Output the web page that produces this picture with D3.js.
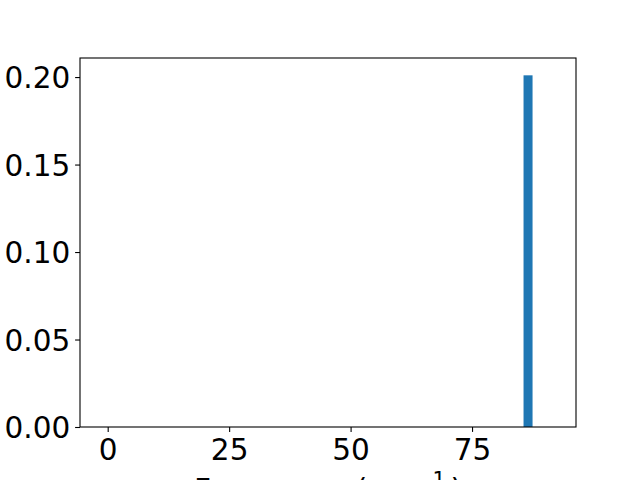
<!DOCTYPE html>
<html>
<head>
<meta charset="utf-8">
<script src="https://cdn.jsdelivr.net/npm/d3@7"></script>
<style>
  body { margin: 0; background: #fff; }
  text { font-family: "DejaVu Sans", sans-serif; fill: #000; }
</style>
</head>
<body>
<svg id="chart" width="640" height="480"></svg>
<script>
// histogram: bin edges and heights (only one non-empty bin)
var binStarts = [85.6];
var binWidths = [1.856];
var binHeights = [0.201];
var xTicks = [0, 25, 50, 75];
var yTicks = [0, 0.05, 0.10, 0.15, 0.20];
var xLabel = "Frequency (cm";

var svg = d3.select("#chart");
var plotLeft = 80, plotRight = 576, plotTop = 58, plotBottom = 427;
var fontSize = 29.5;

var x = d3.scaleLinear().domain([-5.7, 96.4]).range([plotLeft, plotRight]);
var y = d3.scaleLinear().domain([0, 0.2109]).range([plotBottom, plotTop]);

// bars
svg.append("g").selectAll("rect")
  .data(binHeights)
  .enter()
  .append("rect")
  .attr("x", (d, i) => x(binStarts[i]))
  .attr("width", (d, i) => x(binStarts[i] + binWidths[i]) - x(binStarts[i]))
  .attr("y", d => y(d))
  .attr("height", d => plotBottom - y(d))
  .attr("fill", "#1f77b4");

// axes
var xAxis = d3.axisBottom(x).tickValues(xTicks).tickSize(4.9).tickPadding(4.9).tickFormat(d3.format("d"));
var yAxis = d3.axisLeft(y).tickValues(yTicks).tickSize(4.9).tickPadding(4.9).tickFormat(d3.format(".2f"));

var gx = svg.append("g").attr("transform", "translate(0," + plotBottom + ")").call(xAxis);
var gy = svg.append("g").attr("transform", "translate(" + plotLeft + ",0)").call(yAxis);

[gx, gy].forEach(function(g){
  g.select(".domain").remove();
  g.selectAll(".tick line").attr("stroke", "#000").attr("stroke-width", 1.1);
  g.selectAll(".tick text").attr("font-size", fontSize).attr("font-family", "DejaVu Sans").attr("fill", "#000");
});
gx.selectAll(".tick text").attr("dy", null).attr("y", 32.5);
gy.selectAll(".tick text").attr("dy", "0.36em");

// frame
svg.append("rect")
  .attr("x", plotLeft).attr("y", plotTop)
  .attr("width", plotRight - plotLeft).attr("height", plotBottom - plotTop)
  .attr("fill", "none").attr("stroke", "#000").attr("stroke-width", 1.1);

// x label (runs off the bottom edge, as in the original)
var lbl = svg.append("text")
  .attr("x", (plotLeft + plotRight) / 2)
  .attr("y", 499.5)
  .attr("text-anchor", "middle")
  .attr("font-size", fontSize);
lbl.append("tspan").text(xLabel);
lbl.append("tspan").attr("font-size", fontSize * 0.7).attr("dx", 3).attr("dy", -13).text("\u22121");
lbl.append("tspan").attr("dx", 5).attr("dy", 13).text(")");
</script>
</body>
</html>
